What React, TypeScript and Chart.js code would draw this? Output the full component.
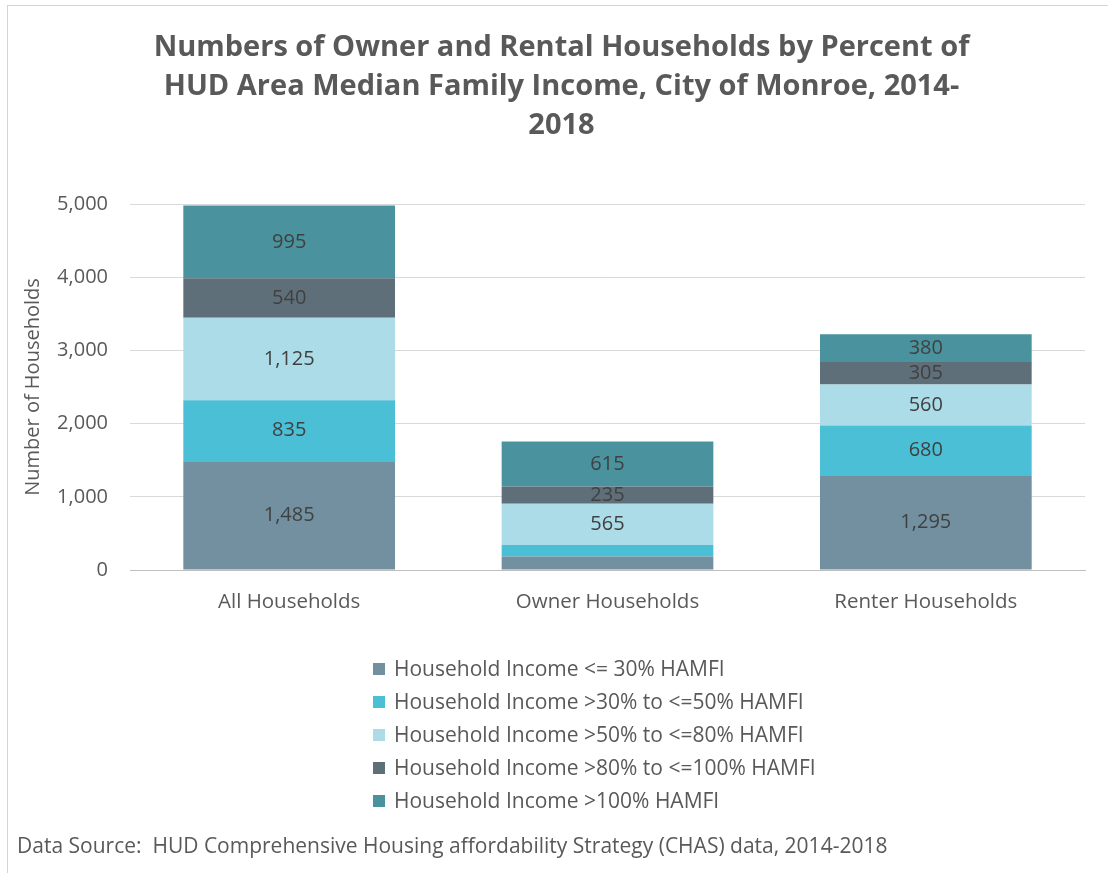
import React, { useEffect, useRef } from "react";
import { Chart, registerables } from "chart.js";

Chart.register(...registerables);

const categories = ["All Households", "Owner Households", "Renter Households"];
const seriesNames = [
  "Household Income <= 30% HAMFI",
  "Household Income >30% to <=50% HAMFI",
  "Household Income >50% to <=80% HAMFI",
  "Household Income >80% to <=100% HAMFI",
  "Household Income >100% HAMFI",
];
const incomeLe30 = [1485, 185, 1295];
const income30to50 = [835, 155, 680];
const income50to80 = [1125, 565, 560];
const income80to100 = [540, 235, 305];
const incomeGt100 = [995, 615, 380];
const seriesColors = ["#7290A0", "#4BBFD6", "#ABDCE8", "#5F6F7A", "#4A929D"];
const yTickMax = 5000;
const yTickStep = 1000;
const titleLines = [
  "Numbers of Owner and Rental Households by Percent of",
  "HUD Area Median Family Income, City of Monroe, 2014-",
  "2018",
];
const yAxisTitle = "Number of Households";
const sourceText = "Data Source:  HUD Comprehensive Housing affordability Strategy (CHAS) data, 2014-2018";

const FONT = "'Open Sans', 'DejaVu Sans', sans-serif";
const TEXT = "#595959";

const fmt = (v: number) => v.toLocaleString("en-US");

const valueLabels = {
  id: "valueLabels",
  afterDatasetsDraw(chart: any) {
    const ctx = chart.ctx;
    ctx.save();
    ctx.font = `20px ${FONT}`;
    ctx.fillStyle = "#404040";
    ctx.textAlign = "center";
    ctx.textBaseline = "middle";
    chart.data.datasets.forEach((ds: any, di: number) => {
      const meta = chart.getDatasetMeta(di);
      meta.data.forEach((el: any, i: number) => {
        const v = ds.data[i];
        if (v < 200) return;
        ctx.fillText(fmt(v), el.x, (el.y + el.base) / 2);
      });
    });
    ctx.restore();
  },
};

export default function App() {
  const ref = useRef<HTMLCanvasElement | null>(null);

  useEffect(() => {
    if (!ref.current) return;
    const allSeries = [incomeLe30, income30to50, income50to80, income80to100, incomeGt100];
    const chart = new Chart(ref.current, {
      type: "bar",
      data: {
        labels: categories,
        datasets: allSeries.map((d, i) => ({
          label: seriesNames[i],
          data: d,
          backgroundColor: seriesColors[i],
          borderWidth: 0,
          barPercentage: 0.665,
          categoryPercentage: 1,
        })),
      },
      options: {
        animation: false,
        responsive: false,
        maintainAspectRatio: false,
        layout: { padding: { left: 38, right: 23, top: 0, bottom: 0 } },
        plugins: {
          legend: { display: false },
          tooltip: { enabled: false },
          title: {
            display: true,
            text: titleLines,
            color: TEXT,
            font: { family: FONT, size: 29, weight: "bold", lineHeight: 1.345 },
            padding: { top: 28, bottom: 59 },
          },
        },
        scales: {
          x: {
            stacked: true,
            grid: { display: false, drawTicks: false },
            border: { display: true, color: "#BFBFBF", width: 1 },
            ticks: { color: TEXT, font: { family: FONT, size: 20.5 }, padding: 20 },
            afterFit: (s: any) => {
              s.height = 303;
            },
          },
          y: {
            stacked: true,
            min: 0,
            max: yTickMax,
            grid: {
              drawTicks: false,
              color: (c: any) => (c.tick && c.tick.value === 0 ? "#BFBFBF" : "#D9D9D9"),
              lineWidth: 1,
            },
            border: { display: false },
            ticks: {
              stepSize: yTickStep,
              color: TEXT,
              font: { family: FONT, size: 20 },
              padding: 22,
              callback: (v: any) => fmt(Number(v)),
            },
            title: {
              display: true,
              text: yAxisTitle,
              color: TEXT,
              font: { family: FONT, size: 20 },
              padding: { top: -17, bottom: 0 },
            },
            afterFit: (s: any) => {
              s.width = 92;
            },
          },
        },
      },
      plugins: [valueLabels],
    });
    return () => chart.destroy();
  }, []);

  return (
    <div
      style={{
        position: "absolute",
        left: 0,
        top: 0,
        width: 1108,
        height: 873,
        overflow: "hidden",
        background: "#ffffff",
        fontFamily: FONT,
      }}
    >
      <div
        style={{
          position: "absolute",
          left: 7,
          top: 5,
          width: 1300,
          height: 1100,
          border: "1px solid #D4D4D4",
          boxSizing: "border-box",
        }}
      />
      <canvas
        ref={ref}
        width={1108}
        height={873}
        style={{ position: "absolute", left: 0, top: 0, width: 1108, height: 873 }}
      />
      <div style={{ position: "absolute", left: 373, top: 652 }}>
        {seriesNames.map((n, i) => (
          <div
            key={n}
            style={{ display: "flex", alignItems: "center", height: 33, whiteSpace: "nowrap" }}
          >
            <span
              style={{
                display: "inline-block",
                width: 12,
                height: 12,
                background: seriesColors[i],
                marginRight: 9,
              }}
            />
            <span style={{ fontSize: 21, color: TEXT, lineHeight: "33px" }}>{n}</span>
          </div>
        ))}
      </div>
      <div
        style={{
          position: "absolute",
          left: 17,
          top: 830,
          fontSize: 21,
          color: TEXT,
          lineHeight: "30px",
          whiteSpace: "pre",
        }}
      >
        {sourceText}
      </div>
    </div>
  );
}
